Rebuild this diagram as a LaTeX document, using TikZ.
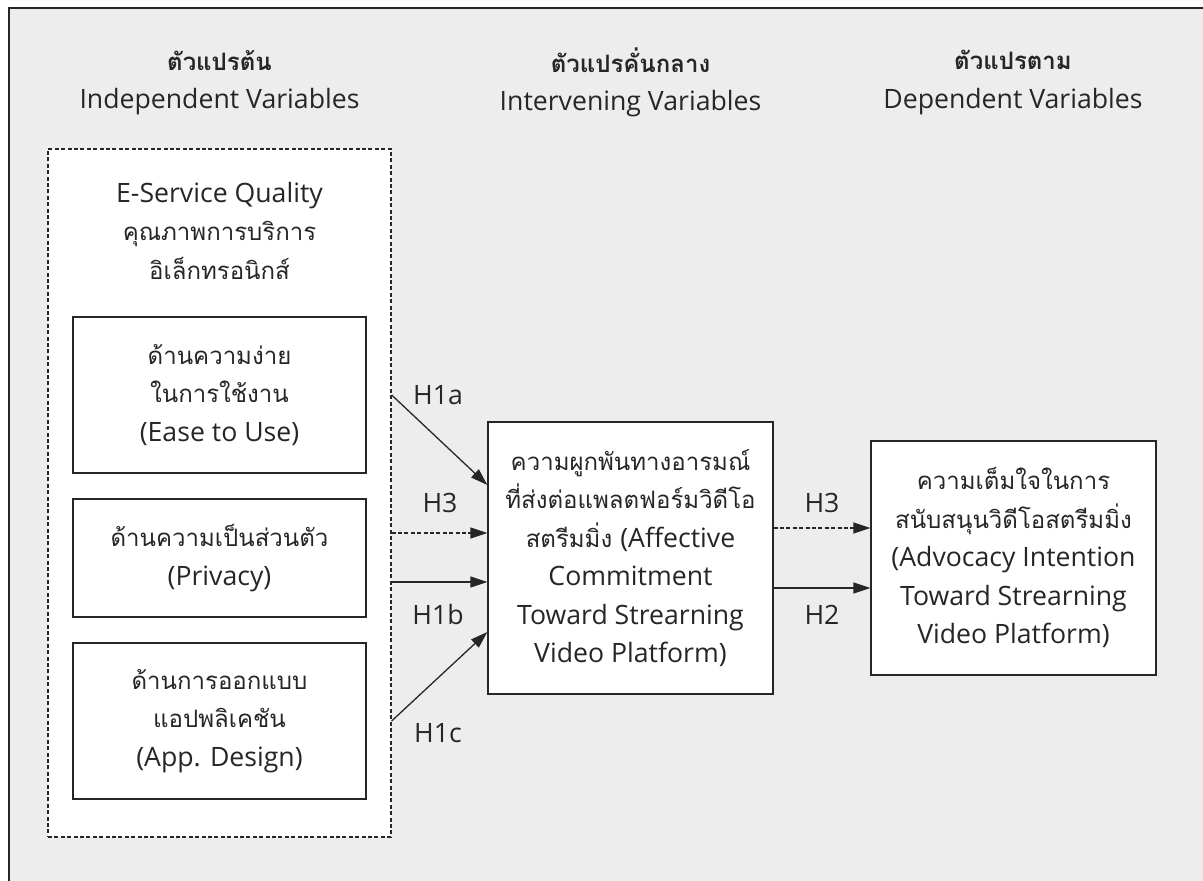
\documentclass[tikz,border=0pt]{standalone}
\usepackage{fontspec}
\setmainfont{Open Sans}[Scale=1.11]
\newfontfamily\latinfont{Open Sans}[Scale=1.11]
\newfontfamily\thaifont[Script=Thai]{Loma}
\usetikzlibrary{arrows.meta}
\newXeTeXintercharclass\thaiclass
\count255="0E01
\loop\XeTeXcharclass\count255=\thaiclass\ifnum\count255<"0E7F\advance\count255 by 1\repeat
\XeTeXinterchartoks 0 \thaiclass = {\thaifont}
\XeTeXinterchartoks 4095 \thaiclass = {\thaifont}
\XeTeXinterchartoks \thaiclass 0 = {\latinfont}
\XeTeXinterchartoks 4095 0 = {\latinfont}
\definecolor{bggray}{RGB}{237,237,237}
\definecolor{ink}{RGB}{38,38,38}
\newcommand{\bodyfont}{\fontsize{12}{19.25}\selectfont}
\tikzset{
  varbox/.style={draw=ink, fill=white, line width=0.65pt, align=center, inner sep=0pt,
    text=ink, font=\bodyfont, minimum width=146.5pt},
  groupbox/.style={draw=ink, fill=white, line width=0.65pt, dash pattern=on 2pt off 1.2pt,
    inner sep=0pt, minimum width=171.5pt, minimum height=344pt},
  headtext/.style={align=center, text=ink, font=\bodyfont},
  hlabel/.style={text=ink, font=\bodyfont, inner sep=0pt},
  arr/.style={draw=ink, line width=0.65pt, -{Triangle[length=8.5pt,width=5.5pt]}},
  dasharr/.style={arr, dash pattern=on 2pt off 1.2pt}
}
\begin{document}
\XeTeXinterchartokenstate=1
\begin{tikzpicture}[x=0.5pt, y=-0.5pt]
        \useasboundingbox (0,0) rectangle (1203,881);
        \fill[bggray] (9,8) rectangle (1203,881);
        \draw[ink, line width=0.65pt] (9,881) -- (9,8) -- (1203,8);

        \node[headtext] (hindep) at (219.5,82.5) {\textbf{ตัวแปรต้น}\\Independent Variables};
        \node[headtext] (hinter) at (630.5,82.5) {\textbf{ตัวแปรคั่นกลาง}\\Intervening Variables};
        \node[headtext] (hdep) at (1013,82.5) {\textbf{ตัวแปรตาม}\\Dependent Variables};

        \node[groupbox] (grp) at (219.5,493) {};
        \node[headtext] (equal) at (219.5,230.5) {E-Service Quality\\คุณภาพการบริการ\\อิเล็กทรอนิกส์};
        \node[varbox, minimum height=78pt] (ease) at (219.5,395) {ด้านความง่าย\\ในการใช้งาน\\(Ease to Use)};
        \node[varbox, minimum height=59pt] (priv) at (219.5,558) {ด้านความเป็นส่วนตัว\\(Privacy)};
        \node[varbox, minimum height=78pt] (design) at (219.5,721) {ด้านการออกแบบ\\แอปพลิเคชัน\\(App. Design)};

        \node[varbox, minimum width=142.5pt, minimum height=136pt] (affect) at (630.5,558)
          {ความผูกพันทางอารมณ์\\ที่ส่งต่อแพลตฟอร์มวิดีโอ\\สตรีมมิ่ง (Affective\\Commitment\\Toward Strearning\\Video Platform)};
        \node[varbox, minimum width=142.5pt, minimum height=117pt] (advoc) at (1013.5,558)
          {ความเต็มใจในการ\\สนับสนุนวิดีโอสตรีมมิ่ง\\(Advocacy Intention\\Toward Strearning\\Video Platform)};

        \coordinate (m1a) at ([yshift=36.5pt]affect.west);
        \coordinate (m3) at ([yshift=12.5pt]affect.west);
        \coordinate (m1b) at ([yshift=-12pt]affect.west);
        \coordinate (m1c) at ([yshift=-37pt]affect.west);
        \coordinate (r3) at ([yshift=15pt]affect.east);
        \coordinate (r2) at ([yshift=-15pt]affect.east);

        \draw[arr] (grp.east |- ease.center) -- (m1a);
        \draw[dasharr] (m3 -| grp.east) -- (m3);
        \draw[arr] (m1b -| grp.east) -- (m1b);
        \draw[arr] (grp.east |- design.center) -- (m1c);
        \draw[dasharr] (r3) -- (r3 -| advoc.west);
        \draw[arr] (r2) -- (r2 -| advoc.west);

        \node[hlabel] (l1a) at (438,395) {H1a};
        \node[hlabel] (l3a) at (440,503) {H3};
        \node[hlabel] (l1b) at (438,615) {H1b};
        \node[hlabel] (l1c) at (438,733) {H1c};
        \node[hlabel] (l3b) at (822,503) {H3};
        \node[hlabel] (l2) at (822,615) {H2};
\end{tikzpicture}
\end{document}
